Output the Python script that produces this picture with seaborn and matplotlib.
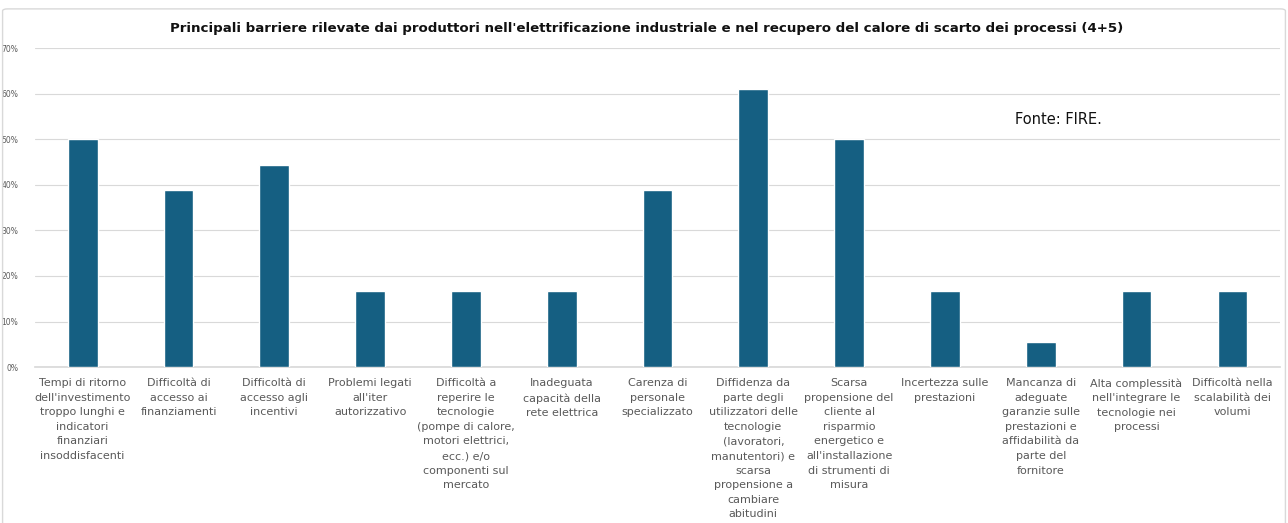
import matplotlib
matplotlib.use("Agg")
import matplotlib.pyplot as plt
import seaborn as sns
import pandas as pd
from matplotlib.ticker import FuncFormatter, MultipleLocator
from matplotlib.patches import FancyBboxPatch

categories = [
    "Tempi di ritorno\ndell'investimento\ntroppo lunghi e\nindicatori\nfinanziari\ninsoddisfacenti",
    "Difficoltà di\naccesso ai\nfinanziamenti",
    "Difficoltà di\naccesso agli\nincentivi",
    "Problemi legati\nall'iter\nautorizzativo",
    "Difficoltà a\nreperire le\ntecnologie\n(pompe di calore,\nmotori elettrici,\necc.) e/o\ncomponenti sul\nmercato",
    "Inadeguata\ncapacità della\nrete elettrica",
    "Carenza di\npersonale\nspecializzato",
    "Diffidenza da\nparte degli\nutilizzatori delle\ntecnologie\n(lavoratori,\nmanutentori) e\nscarsa\npropensione a\ncambiare\nabitudini",
    "Scarsa\npropensione del\ncliente al\nrisparmio\nenergetico e\nall'installazione\ndi strumenti di\nmisura",
    "Incertezza sulle\nprestazioni",
    "Mancanza di\nadeguate\ngaranzie sulle\nprestazioni e\naffidabilità da\nparte del\nfornitore",
    "Alta complessità\nnell'integrare le\ntecnologie nei\nprocessi",
    "Difficoltà nella\nscalabilità dei\nvolumi",
]
values = [0.500, 0.389, 0.444, 0.167, 0.167, 0.167, 0.389, 0.611, 0.500, 0.167, 0.056, 0.167, 0.167]

title = "Principali barriere rilevate dai produttori nell'elettrificazione industriale e nel recupero del calore di scarto dei processi (4+5)"
source = "Fonte: FIRE."

df = pd.DataFrame({"cat": categories, "val": values})

sns.set_theme(style="white")
plt.rcParams['font.family'] = ['DejaVu Sans']

fig = plt.figure(figsize=(12.88, 5.23), dpi=100)
ax = fig.add_axes([0.027, 0.298, 0.967, 0.610])

sns.barplot(data=df, x="cat", y="val", color="#155F82", width=0.31,
            saturation=1, ax=ax, zorder=3)

ax.set_ylim(0, 0.70)
ax.yaxis.set_major_locator(MultipleLocator(0.10))
ax.yaxis.set_major_formatter(FuncFormatter(lambda v, p: f"{v*100:.0f}%"))
ax.grid(axis="y", color="#d9d9d9", linewidth=0.8, zorder=0)
ax.set_axisbelow(True)
for s in ["top", "right", "left"]:
    ax.spines[s].set_visible(False)
ax.spines["bottom"].set_color("#d9d9d9")
ax.set_xlabel("")
ax.set_ylabel("")
ax.tick_params(axis="y", labelsize=5.5, colors="#595959", length=0, pad=12)
ax.tick_params(axis="x", length=0, pad=8)
ax.set_xticks(range(len(categories)))
ax.set_xticklabels(categories, fontsize=8.0, color="#595959",
                   linespacing=1.57, ha="center")

fig.text(0.502, 0.946, title, ha="center", va="center", fontsize=9.6,
         fontweight="bold", color="#111111")
fig.text(0.788, 0.771, source, ha="left", va="center", fontsize=10.5, color="#111111")

border = FancyBboxPatch((0.002, -0.02), 0.996, 1.003, transform=fig.transFigure,
                        boxstyle="round,pad=0,rounding_size=0.004",
                        facecolor="none", edgecolor="#d9d9d9", linewidth=1)
fig.patches.append(border)

fig.savefig("out.png", dpi=100)
